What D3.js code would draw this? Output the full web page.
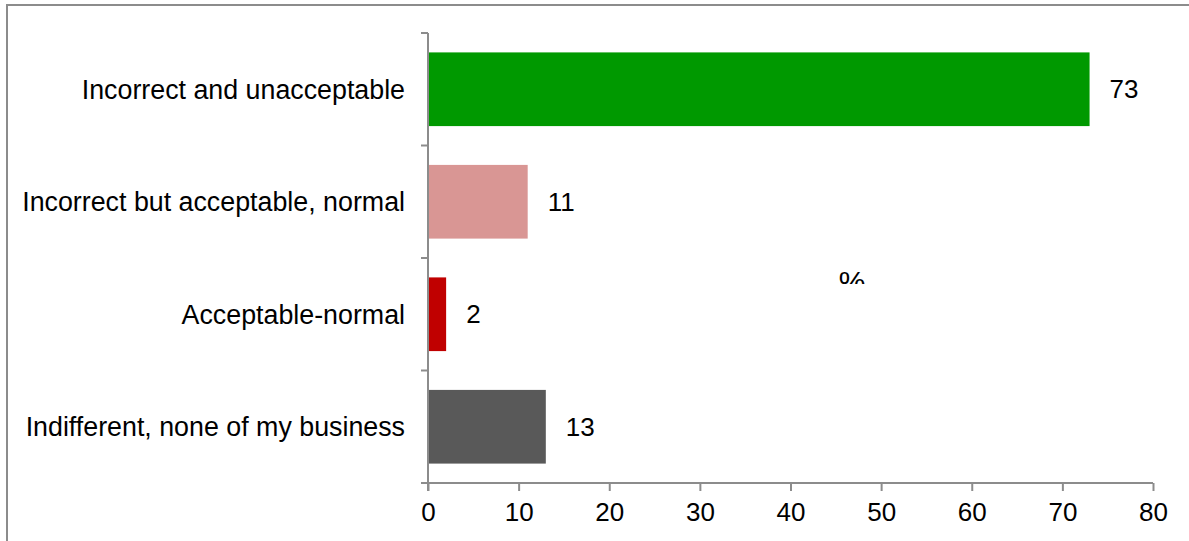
<!DOCTYPE html>
<html>
<head>
<meta charset="utf-8">
<script src="https://cdn.jsdelivr.net/npm/d3@7/dist/d3.min.js"></script>
<style>
  html, body { margin: 0; padding: 0; background: #fff; }
  svg { display: block; }
  text { font-family: "Liberation Sans", Arial, sans-serif; fill: #000; }
</style>
</head>
<body>
<svg id="chart" width="1189" height="541"></svg>
<script>
// Survey answers, share of respondents in percent
const categories = [
  "Incorrect and unacceptable",
  "Incorrect but acceptable, normal",
  "Acceptable-normal",
  "Indifferent, none of my business"
];
const values = [73, 11, 2, 13];
const barColors = ["#009900", "#D99694", "#C00000", "#595959"];
const xTicks = [0, 10, 20, 30, 40, 50, 60, 70, 80];
const unitLabel = "%";

const FONT = "26px";
const CAT_FONT = "26.8px";
const svg = d3.select("#chart");
const W = 1189, H = 541;

// outer frame, open on the right and bottom
svg.append("path")
  .attr("d", `M7,${H} L7,5 L${W},5`)
  .attr("fill", "none")
  .attr("stroke", "#8c8c8c")
  .attr("stroke-width", 2);

const margin = { left: 428, right: 36, top: 33, bottom: 58 };
const plotW = W - margin.left - margin.right;   // 725
const plotH = H - margin.top - margin.bottom;   // 450

const x = d3.scaleLinear().domain([0, 80]).range([0, plotW]);
const y = d3.scaleBand().domain(categories).range([0, plotH])
  .paddingInner(0.345).paddingOuter(0.1725);

const g = svg.append("g").attr("transform", `translate(${margin.left},${margin.top})`);

// "%" unit marker, partially hidden by the plot
const clipId = "unitclip";
svg.append("clipPath").attr("id", clipId)
  .append("rect").attr("x", 0).attr("y", 0).attr("width", W).attr("height", 284);
svg.append("text")
  .attr("clip-path", `url(#${clipId})`)
  .attr("x", 852).attr("y", 292)
  .attr("text-anchor", "middle")
  .style("font-size", "30px")
  .text(unitLabel);

// bars
g.selectAll("rect.bar")
  .data(values)
  .join("rect")
  .attr("class", "bar")
  .attr("x", x(0))
  .attr("y", (d, i) => y(categories[i]))
  .attr("width", d => x(d) - x(0))
  .attr("height", y.bandwidth())
  .attr("fill", (d, i) => barColors[i]);

// value labels
g.selectAll("text.val")
  .data(values)
  .join("text")
  .attr("class", "val")
  .attr("x", d => x(d) + 20)
  .attr("y", (d, i) => y(categories[i]) + y.bandwidth() / 2)
  .attr("dy", "0.35em")
  .style("font-size", FONT)
  .text(d => d);

// x axis
const xAxis = g.append("g")
  .attr("transform", `translate(0,${plotH})`)
  .call(d3.axisBottom(x).tickValues(xTicks).tickSize(8).tickPadding(12).tickFormat(d3.format("d")));
xAxis.select(".domain").attr("stroke", "#8c8c8c").attr("stroke-width", 2)
  .attr("d", `M-7,0H${plotW}`);
xAxis.selectAll(".tick line").attr("stroke", "#8c8c8c").attr("stroke-width", 2);
xAxis.selectAll(".tick text").style("font-size", FONT)
  .style("font-family", "'Liberation Sans', Arial, sans-serif").attr("fill", "#000");

// y axis: boundary ticks between categories
const yAxisG = g.append("g");
yAxisG.append("line")
  .attr("x1", 0).attr("x2", 0).attr("y1", 0).attr("y2", plotH + 8)
  .attr("stroke", "#8c8c8c").attr("stroke-width", 2);
const bounds = d3.range(categories.length + 1).map(i => i * plotH / categories.length);
yAxisG.selectAll("line.ytick")
  .data(bounds)
  .join("line")
  .attr("class", "ytick")
  .attr("x1", -7).attr("x2", 0)
  .attr("y1", d => d).attr("y2", d => d)
  .attr("stroke", "#8c8c8c").attr("stroke-width", 2);

// category labels
yAxisG.selectAll("text.cat")
  .data(categories)
  .join("text")
  .attr("class", "cat")
  .attr("x", -23)
  .attr("y", d => y(d) + y.bandwidth() / 2)
  .attr("dy", "0.35em")
  .attr("text-anchor", "end")
  .style("font-size", CAT_FONT)
  .text(d => d);
</script>
</body>
</html>
